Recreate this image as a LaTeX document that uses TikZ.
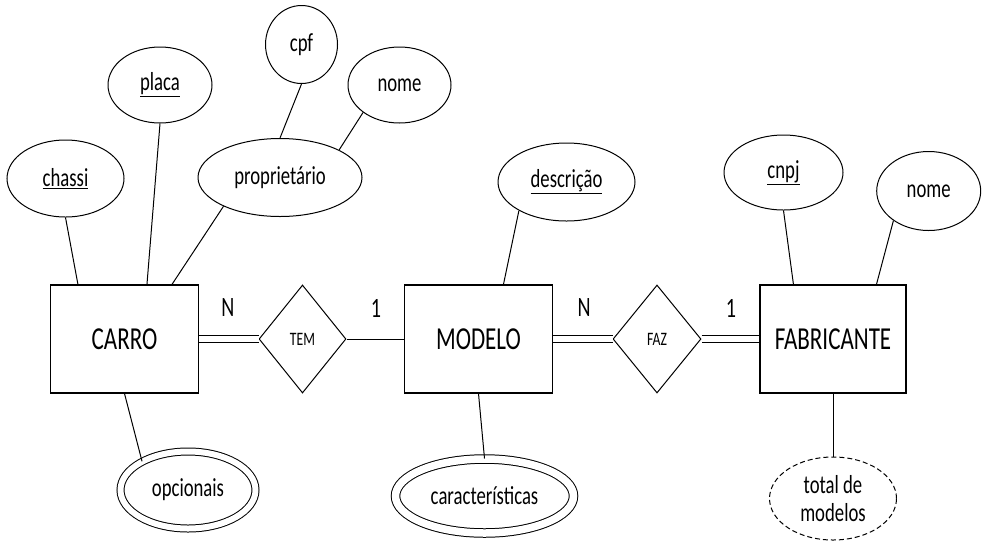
\documentclass[tikz,border=0pt]{standalone}
\usepackage{fontspec}
\setmainfont{Carlito}[FakeStretch=0.72]
\usetikzlibrary{shapes.geometric}
\begin{document}
\begin{tikzpicture}[x=1pt,y=-1pt,
  ent/.style={draw, line width=1.1pt, minimum width=148pt, minimum height=108pt, inner sep=0pt, font=\fontsize{32}{38}\selectfont},
  rel/.style={draw, diamond, line width=1pt, inner sep=0pt, minimum width=87pt, minimum height=108pt, font=\fontsize{19}{22}\selectfont},
  attr/.style={draw, ellipse, line width=1pt, inner sep=0pt, font=\fontsize{26}{30}\selectfont},
  multi/.style={attr, double, double distance=6pt},
  derived/.style={attr, dashed, dash pattern=on 5pt off 3pt},
  card/.style={font=\fontsize{28}{32}\selectfont, inner sep=0pt},
  conn/.style={line width=1pt},
  dbl/.style={line width=1pt, double, double distance=6pt}
]
\useasboundingbox (0,0) rectangle (984,542);

% entities
\node[ent] (carro)  at (124.5,339) {CARRO};
\node[ent] (modelo) at (478.5,339) {MODELO};
\node[ent, minimum width=146pt] (fab) at (833,339) {FABRICANTE};

% relationships
\node[rel] (tem) at (302.5,339) {TEM};
\node[rel, minimum width=88pt] (faz) at (657,339) {FAZ};

% cardinalities
\node[card] (n1) at (228,308) {N};
\node[card] (o1) at (376,308) {1};
\node[card] (n2) at (584,308) {N};
\node[card] (o2) at (731,308) {1};

% attributes
\node[attr, minimum width=117pt, minimum height=77pt] (chassi) at (65.5,178.5) {\underline{chassi}};
\node[attr, minimum width=104pt, minimum height=76pt] (placa) at (160,85) {\underline{placa}};
\node[attr, minimum width=72pt, minimum height=78pt] (cpf) at (301.5,44.5) {cpf};
\node[attr, minimum width=103pt, minimum height=76pt] (nome1) at (399.5,85) {nome};
\node[attr, minimum width=164pt, minimum height=78pt] (prop) at (280,177.5) {proprietário};
\node[attr, minimum width=137pt, minimum height=78pt] (desc) at (566.5,182) {\underline{descrição}};
\node[attr, minimum width=119pt, minimum height=75pt] (cnpj) at (783.5,172.5) {\underline{cnpj}};
\node[attr, minimum width=104pt, minimum height=79pt] (nome2) at (928.7,191) {nome};

\node[multi, minimum width=135pt, minimum height=77pt] (opc) at (188,490) {opcionais};
\node[multi, double distance=7.5pt, minimum width=178pt, minimum height=74pt] (carac) at (484.5,496) {características};
\node[derived, minimum width=127pt, minimum height=83pt, align=center] (total) at (833,498.5) {total de\\[-2pt]modelos};

% attachment points on entity tops
\coordinate (cA) at ([xshift=28pt]carro.north west);
\coordinate (cB) at ([xshift=97pt]carro.north west);
\coordinate (cC) at ([xshift=122pt]carro.north west);
\coordinate (mA) at ([xshift=99.5pt]modelo.north west);
\coordinate (fA) at ([xshift=34pt]fab.north west);
\coordinate (fB) at ([xshift=117pt]fab.north west);

% connectors
\draw[conn] (chassi.south) -- (cA);
\draw[conn] (placa.south) -- (cB);
\draw[conn] (prop.207) -- (cC);
\draw[conn] (cpf.south) -- (prop.north);
\draw[conn] (nome1.217) -- (prop.25);
\draw[conn] (desc.211) -- (mA);
\draw[conn] (cnpj.south) -- (fA);
\draw[conn] (nome2.220) -- (fB);

\draw[conn] (carro.south) -- (opc.148);
\draw[conn] (modelo.south) -- (carac.north);
\draw[conn] (fab.south) -- (total.north);

\draw[dbl] (carro.east) -- (tem.west);
\draw[conn] (tem.east) -- (modelo.west);
\draw[dbl] (modelo.east) -- (faz.west);
\draw[dbl] (faz.east) -- (fab.west);
\end{tikzpicture}
\end{document}
